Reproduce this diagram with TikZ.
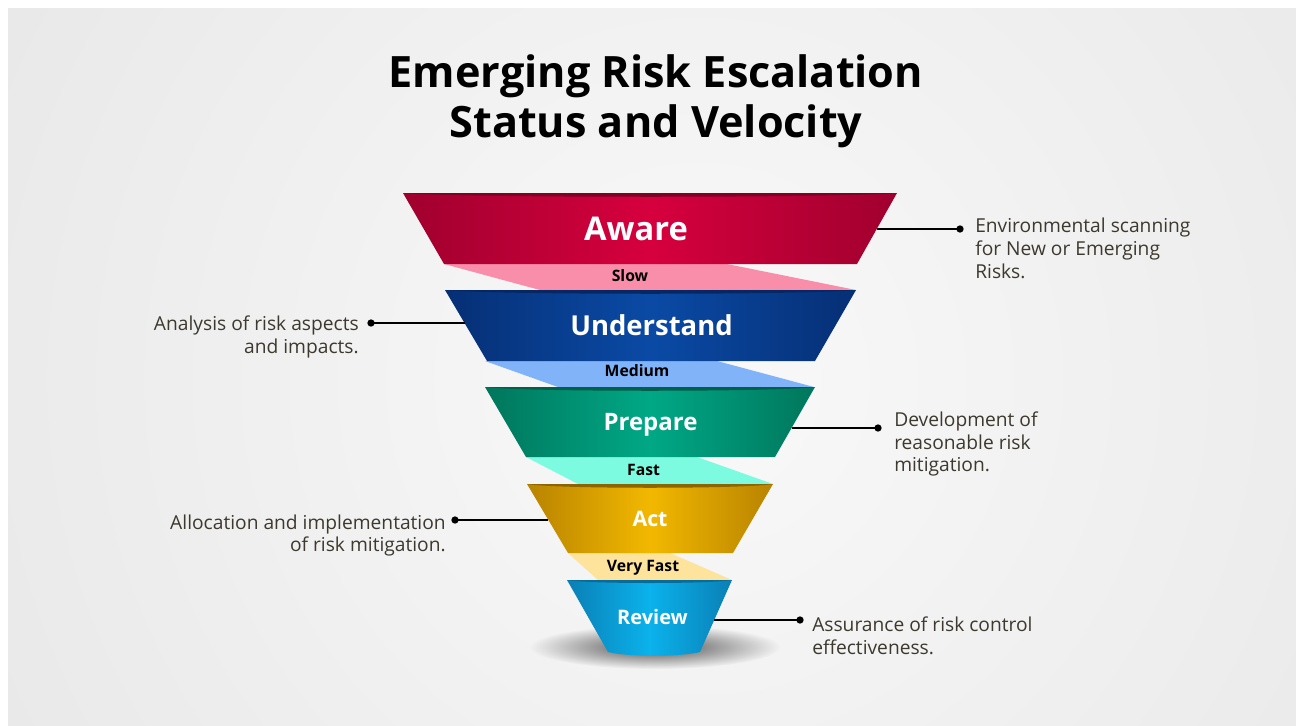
\documentclass[tikz,border=0pt]{standalone}
\usepackage{fontspec}
\setmainfont{Open Sans}
\usetikzlibrary{fadings}

\definecolor{bglight}{RGB}{249,249,249}
\definecolor{bgdark}{RGB}{218,218,218}
\definecolor{notegray}{RGB}{60,57,46}
\definecolor{awarelight}{RGB}{214,0,62}
\definecolor{awaredark}{RGB}{160,0,46}
\definecolor{awarerim}{RGB}{130,0,36}
\definecolor{slowband}{RGB}{249,142,170}
\definecolor{underlight}{RGB}{10,74,165}
\definecolor{underdark}{RGB}{6,47,117}
\definecolor{underrim}{RGB}{5,40,100}
\definecolor{mediumband}{RGB}{128,179,247}
\definecolor{preplight}{RGB}{0,168,134}
\definecolor{prepdark}{RGB}{0,118,92}
\definecolor{preprim}{RGB}{0,96,76}
\definecolor{fastband}{RGB}{125,251,224}
\definecolor{actlight}{RGB}{242,184,0}
\definecolor{actdark}{RGB}{184,131,0}
\definecolor{actrim}{RGB}{140,100,0}
\definecolor{vfastband}{RGB}{253,227,155}
\definecolor{reviewlight}{RGB}{11,178,236}
\definecolor{reviewdark}{RGB}{10,127,181}
\definecolor{reviewrim}{RGB}{8,108,155}

\tikzfading[name=shadowfade, inner color=transparent!0, outer color=transparent!100]

\begin{document}
\begin{tikzpicture}[x=0.75pt,y=0.75pt,yscale=-1,xscale=1,
  stage/.style={text=white,inner sep=0.75pt},
  band/.style={font=\fontsize{11.8}{14}\selectfont\bfseries,inner sep=0.75pt},
  note/.style={font=\fontsize{14.4}{16.9}\selectfont,text=notegray,inner sep=0pt},
  leader/.style={line width=1pt},
  dot/.style={circle,fill=black,inner sep=0pt,minimum size=5.5pt}]
\useasboundingbox (0,0) rectangle (1296,725);

%Background
\fill[white] (0,0) rectangle (1296,725);
\begin{scope}
\clip (8,8) rectangle (1296,725);
\shade[inner color=bglight, outer color=bgdark] (700,380) circle (1500);
\end{scope}

% Text Node
\node (title) [anchor=north,align=center,inner sep=0pt,font=\fontsize{32.4}{37.5}\selectfont\bfseries] at (656,54) {Emerging Risk Escalation\\Status and Velocity};

%Shape: Bands
\fill[slowband] (444,264) -- (727,264) -- (856,290) -- (540,290) -- cycle;
\fill[mediumband] (485,361) -- (717,361) -- (814,387) -- (558,387) -- cycle;
\fill[fastband] (526,457) -- (697,457) -- (773,484) -- (578,484) -- cycle;
\fill[vfastband] (568,553) -- (670,553) -- (732,580) -- (598,580) -- cycle;

%Shape: Aware
\shade[left color=awaredark, right color=awaredark, middle color=awarelight] (403,193) -- (897,193) -- (857,264) -- (444,264) -- cycle;
\fill[awarerim] (403,193) -- (897,193) .. controls (850,198) and (450,198) .. (403,193) -- cycle;
%Shape: Understand
\shade[left color=underdark, right color=underdark, middle color=underlight] (445,290) -- (856,290) -- (815,361) -- (487,361) -- cycle;
\fill[underrim] (445,290) -- (856,290) .. controls (815,295) and (486,295) .. (445,290) -- cycle;
%Shape: Prepare
\shade[left color=prepdark, right color=prepdark, middle color=preplight] (485,387) -- (815,387) -- (775,457) -- (526,457) -- cycle;
\fill[preprim] (485,387) -- (815,387) .. controls (782,392) and (518,392) .. (485,387) -- cycle;
%Shape: Act
\shade[left color=actdark, right color=actdark, middle color=actlight] (527,484) -- (773,484) -- (733,553) -- (568,553) -- cycle;
\fill[actrim] (527,484) -- (773,484) .. controls (748,489) and (552,489) .. (527,484) -- cycle;
%Shape: Shadow
\fill[black!70, path fading=shadowfade] (655,647) ellipse (125 and 22);
%Shape: Review
\shade[left color=reviewdark, right color=reviewdark, middle color=reviewlight] (567,580) -- (732,580) -- (700,652) .. controls (680,657) and (628,657) .. (608,652) -- cycle;
\fill[reviewrim] (567,580) -- (732,580) .. controls (715,584) and (584,584) .. (567,580) -- cycle;

% Text Node
\node (aware) [stage,anchor=base,font=\fontsize{24.5}{28}\selectfont\bfseries] at (636,240.7) {Aware};
\node (understand) [stage,anchor=base,font=\fontsize{20.6}{24}\selectfont\bfseries] at (651.5,335) {Understand};
\node (prepare) [stage,anchor=base,font=\fontsize{18}{21}\selectfont\bfseries] at (650.5,430) {Prepare};
\node (act) [stage,anchor=base,font=\fontsize{16}{19}\selectfont\bfseries] at (650,526.7) {Act};
\node (review) [stage,anchor=base,font=\fontsize{15}{18}\selectfont\bfseries] at (652.5,624.8) {Review};

% Text Node
\node (slow) [band,anchor=base] at (630,281.7) {Slow};
\node (medium) [band,anchor=base] at (637,376.7) {Medium};
\node (fast) [band,anchor=base] at (643.5,475) {Fast};
\node (veryfast) [band,anchor=base] at (643,571.7) {Very Fast};

%Straight Lines
\coordinate (awareedge) at (877,229);
\node (awaredot) [dot] at (960,229) {};
\draw[leader] (awareedge) -- (awaredot.center);
\coordinate (understandedge) at (465,323);
\node (understanddot) [dot] at (371,323) {};
\draw[leader] (understandedge) -- (understanddot.center);
\coordinate (prepareedge) at (792,428);
\node (preparedot) [dot] at (878,428) {};
\draw[leader] (prepareedge) -- (preparedot.center);
\coordinate (actedge) at (548,520);
\node (actdot) [dot] at (455,520) {};
\draw[leader] (actedge) -- (actdot.center);
\coordinate (reviewedge) at (714,620);
\node (reviewdot) [dot] at (800,620) {};
\draw[leader] (reviewedge) -- (reviewdot.center);

% Text Node
\node (awarenote) [note,anchor=base west,align=left] at (975,278) {Environmental scanning\\for New or Emerging\\Risks.};
\node (understandnote) [note,anchor=base east,align=right] at (359,353.3) {Analysis of risk aspects\\and impacts.};
\node (preparenote) [note,anchor=base west,align=left] at (894,471.7) {Development of\\reasonable risk\\mitigation.};
\node (actnote) [note,anchor=base east,align=right] at (446,551.7) {Allocation and implementation\\of risk mitigation.};
\node (reviewnote) [note,anchor=base west,align=left] at (812,654) {Assurance of risk control\\effectiveness.};

\end{tikzpicture}
\end{document}
